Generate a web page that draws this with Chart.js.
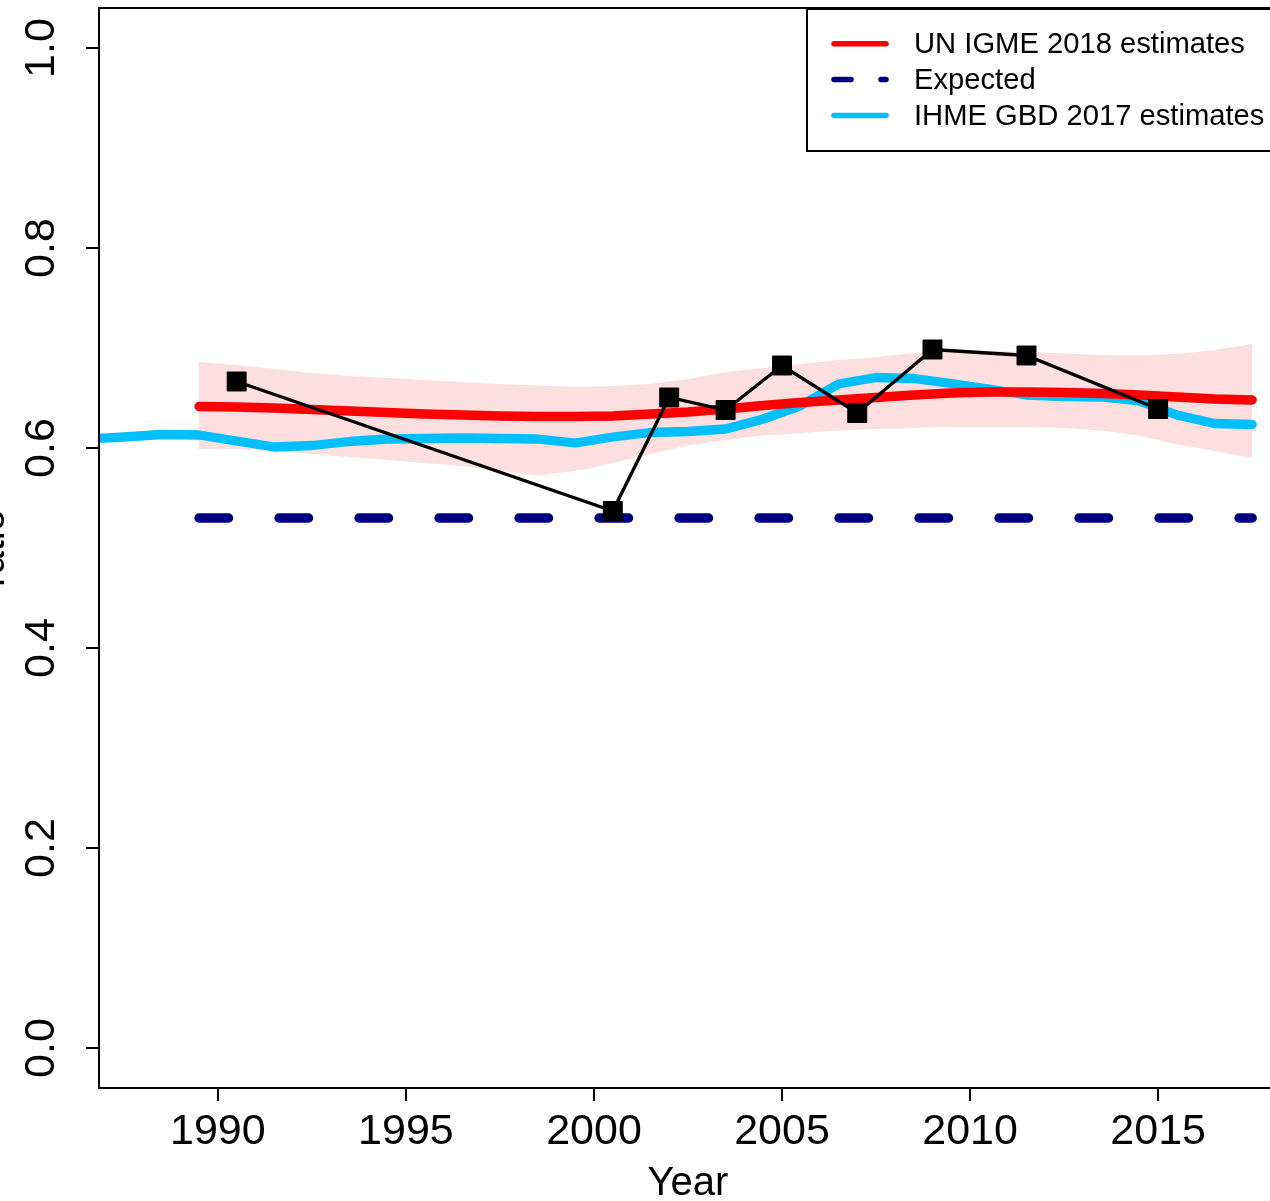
<!DOCTYPE html>
<html>
<head>
<meta charset="utf-8">
<title>ratio</title>
<script src="https://cdn.jsdelivr.net/npm/chart.js@4.4.1/dist/chart.umd.min.js"></script>
<style>
  html, body { margin: 0; padding: 0; background: #fff; overflow: hidden; }
  #wrap { position: relative; width: 1270px; height: 1201px; overflow: hidden; }
  #c { position: absolute; left: -36px; top: 0; width: 1336px; height: 1240px; }
</style>
</head>
<body>
<div id="wrap"><canvas id="c" width="1336" height="1240"></canvas></div>
<script>
// UN IGME 2018 estimates (mid-year) with uncertainty band
const igmeYears = [1989.5, 1990.5, 1991.5, 1992.5, 1993.5, 1994.5, 1995.5, 1996.5, 1997.5, 1998.5,
  1999.5, 2000.5, 2001.5, 2002.5, 2003.5, 2004.5, 2005.5, 2006.5, 2007.5, 2008.5,
  2009.5, 2010.5, 2011.5, 2012.5, 2013.5, 2014.5, 2015.5, 2016.5, 2017.5]
const igmeMid = [0.6415, 0.641, 0.640, 0.6385, 0.637, 0.6355, 0.634, 0.633, 0.632, 0.6315,
  0.6315, 0.632, 0.634, 0.636, 0.639, 0.6425, 0.6455, 0.648, 0.6505, 0.653,
  0.655, 0.656, 0.656, 0.6555, 0.6545, 0.653, 0.651, 0.649, 0.648]
const igmeUpper = [0.686, 0.683, 0.679, 0.675, 0.672, 0.670, 0.668, 0.666, 0.664, 0.6625,
  0.661, 0.662, 0.664, 0.669, 0.676, 0.680, 0.684, 0.688, 0.691, 0.695,
  0.696, 0.697, 0.696, 0.6945, 0.693, 0.6925, 0.694, 0.698, 0.704]
const igmeLower = [0.599, 0.599, 0.597, 0.594, 0.591, 0.588, 0.585, 0.582, 0.577, 0.5725,
  0.577, 0.585, 0.594, 0.6025, 0.608, 0.6125, 0.615, 0.6175, 0.619, 0.620,
  0.621, 0.621, 0.621, 0.620, 0.6175, 0.6125, 0.6035, 0.597, 0.590]

// IHME GBD 2017 estimates
const ihmeYears = [1985.5, 1986.5, 1987.5, 1988.5, 1989.5, 1990.5, 1991.5, 1992.5, 1993.5, 1994.5,
  1995.5, 1996.5, 1997.5, 1998.5, 1999.5, 2000.5, 2001.5, 2002.5, 2003.5, 2004.5,
  2005.5, 2006.5, 2007.5, 2008.5, 2009.5, 2010.5, 2011.5, 2012.5, 2013.5, 2014.5,
  2015.5, 2016.5, 2017.5]
const ihmeValues = [0.607, 0.609, 0.611, 0.6135, 0.613, 0.607, 0.601, 0.6025, 0.6065, 0.609,
  0.6095, 0.610, 0.6095, 0.609, 0.605, 0.611, 0.6155, 0.6165, 0.619, 0.629,
  0.6425, 0.664, 0.6705, 0.6695, 0.6645, 0.659, 0.653, 0.6515, 0.651, 0.647,
  0.633, 0.6245, 0.6235]

// expected ratio
const expectedYears = [1989.5, 2017.5]
const expectedValues = [0.53, 0.53]

// observed data points
const obsYears = [1990.5, 2000.5, 2002, 2003.5, 2005, 2007, 2009, 2011.5, 2015]
const obsValues = [0.6665, 0.537, 0.6505, 0.638, 0.6825, 0.635, 0.6985, 0.6925, 0.639]

const xTicks = [1990, 1995, 2000, 2005, 2010, 2015]
const yTicks = [0, 0.2, 0.4, 0.6, 0.8, 1.0]
const yTickLabels = ['0.0', '0.2', '0.4', '0.6', '0.8', '1.0']

function pts(xs, ys) {
  return xs.map((x, i) => ({x: x, y: ys[i]}))
}

Chart.defaults.font.family = "'Liberation Sans', Arial, Helvetica, sans-serif"
Chart.defaults.color = '#000'

// legend rows: label, colour, dash
const legendRows = [
  {label: 'UN IGME 2018 estimates', color: '#FF0000', dash: []},
  {label: 'Expected', color: '#000080', dash: [17, 30]},
  {label: 'IHME GBD 2017 estimates', color: '#00BFFF', dash: []}
]

const boxPlugin = {
  id: 'boxPlugin',
  afterDatasetsDraw(chart) {
    const ctx = chart.ctx
    const a = chart.chartArea
    ctx.save()
    ctx.strokeStyle = '#000'
    ctx.lineWidth = 2
    ctx.strokeRect(a.left, a.top, a.right - a.left, a.bottom - a.top)

    // legend, top right
    const bx = a.right - 470, by = a.top + 1
    ctx.fillStyle = '#fff'
    ctx.fillRect(bx, by, 470, 142)
    ctx.strokeRect(bx, by, 470, 142)
    ctx.font = "29.2px 'Liberation Sans', Arial, sans-serif"
    ctx.textBaseline = 'middle'
    ctx.textAlign = 'left'
    legendRows.forEach((r, i) => {
      const y = a.top + 35.7 + i * 35.9
      ctx.beginPath()
      ctx.setLineDash(r.dash)
      ctx.lineCap = 'round'
      ctx.lineWidth = 5.5
      ctx.strokeStyle = r.color
      ctx.moveTo(bx + 27, y)
      ctx.lineTo(bx + 79, y)
      ctx.stroke()
      ctx.setLineDash([])
      ctx.fillStyle = '#000'
      ctx.fillText(r.label, bx + 107, y + 1.5)
    })
    ctx.restore()
  }
}

const ctx = document.getElementById('c')
new Chart(ctx, {
  type: 'line',
  data: {
    datasets: [
      {
        label: 'upper',
        data: pts(igmeYears, igmeUpper),
        borderColor: 'rgba(0,0,0,0)',
        borderWidth: 0,
        pointRadius: 0,
        backgroundColor: 'rgb(253,223,224)',
        fill: '+1',
        order: 10
      },
      {
        label: 'lower',
        data: pts(igmeYears, igmeLower),
        borderColor: 'rgba(0,0,0,0)',
        borderWidth: 0,
        pointRadius: 0,
        fill: false,
        order: 9
      },
      {
        label: 'IHME GBD 2017 estimates',
        data: pts(ihmeYears, ihmeValues),
        borderColor: '#00BFFF',
        borderWidth: 9.3,
        borderCapStyle: 'round',
        borderJoinStyle: 'round',
        pointRadius: 0,
        fill: false,
        clip: 0,
        order: 8
      },
      {
        label: 'Expected',
        data: pts(expectedYears, expectedValues),
        borderColor: '#000080',
        borderWidth: 9.5,
        borderDash: [29.5, 50.5],
        borderCapStyle: 'round',
        pointRadius: 0,
        fill: false,
        order: 7
      },
      {
        label: 'UN IGME 2018 estimates',
        data: pts(igmeYears, igmeMid),
        borderColor: '#FF0000',
        borderWidth: 9.3,
        borderCapStyle: 'round',
        borderJoinStyle: 'round',
        pointRadius: 0,
        fill: false,
        order: 6
      },
      {
        label: 'data',
        data: pts(obsYears, obsValues),
        borderColor: '#000',
        borderWidth: 3.3,
        pointStyle: 'rect',
        pointRadius: 13.4,
        pointBackgroundColor: '#000',
        pointBorderColor: '#000',
        pointBorderWidth: 1,
        fill: false,
        order: 1
      }
    ]
  },
  options: {
    responsive: false,
    animation: false,
    devicePixelRatio: 1,
    layout: {
      autoPadding: false,
      padding: {left: 0, top: 8, right: 23, bottom: 31.7}
    },
    plugins: {
      legend: {display: false},
      tooltip: {enabled: false}
    },
    scales: {
      x: {
        type: 'linear',
        min: 1986.84,
        max: 2018.16,
        afterBuildTicks: s => { s.ticks = xTicks.map(v => ({value: v})) },
        afterFit: s => { s.height = 120.3; s.paddingLeft = 0; s.paddingRight = 0 },
        grid: {drawOnChartArea: false, drawTicks: true, tickLength: 13, color: '#000', lineWidth: 2},
        border: {display: false},
        ticks: {
          color: '#000',
          font: {size: 43},
          padding: 5,
          minRotation: 0,
          maxRotation: 0,
          autoSkip: false,
          callback: v => String(v)
        },
        title: {display: true, text: 'Year', color: '#000', font: {size: 40}, padding: 0}
      },
      y: {
        type: 'linear',
        min: -0.04,
        max: 1.04,
        afterBuildTicks: s => { s.ticks = yTicks.map(v => ({value: v})) },
        afterFit: s => { s.width = 135; s.paddingTop = 0; s.paddingBottom = 0 },
        grid: {drawOnChartArea: false, drawTicks: true, tickLength: 13, color: '#000', lineWidth: 2},
        border: {display: false},
        ticks: {
          color: '#000',
          font: {size: 43},
          padding: 13.5,
          minRotation: 90,
          maxRotation: 90,
          crossAlign: 'center',
          autoSkip: false,
          callback: (v, i) => yTickLabels[i]
        },
        title: {display: true, text: 'ratio', color: '#000', font: {size: 40}, padding: {top: 5, bottom: 0}}
      }
    }
  },
  plugins: [boxPlugin]
})
</script>
</body>
</html>
